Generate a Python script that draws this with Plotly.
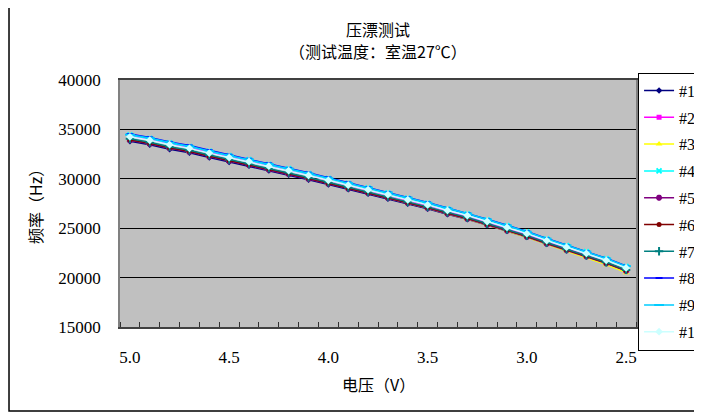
import plotly.graph_objects as go

# 电压（V），从5.0降到2.5
voltage = [5.0, 4.9, 4.8, 4.7, 4.6, 4.5, 4.4, 4.3, 4.2, 4.1, 4.0, 3.9, 3.8,
           3.7, 3.6, 3.5, 3.4, 3.3, 3.2, 3.1, 3.0, 2.9, 2.8, 2.7, 2.6, 2.5]

f1 = [33800, 33450, 33000, 32630, 32150, 31700, 31310, 30840, 30400, 29910, 29420, 28930, 28480,
      27990, 27470, 26960, 26410, 25900, 25310, 24720, 24100, 23410, 22750, 22130, 21440, 20680]
f2 = [34330, 33970, 33520, 33140, 32660, 32200, 31790, 31310, 30850, 30350, 29850, 29340, 28880,
      28370, 27840, 27310, 26740, 26210, 25600, 24990, 24340, 23630, 22940, 22290, 21570, 20730]
f3 = [33950, 33600, 33150, 32780, 32300, 31850, 31450, 30980, 30530, 30040, 29550, 29040, 28590,
      28080, 27560, 27030, 26470, 25940, 25330, 24720, 24080, 23370, 22680, 22030, 21310, 20500]
f4 = [34430, 34080, 33630, 33260, 32780, 32330, 31930, 31460, 31010, 30520, 30030, 29520, 29070,
      28570, 28040, 27520, 26960, 26440, 25840, 25240, 24610, 23910, 23240, 22610, 21910, 21130]
f5 = [33900, 33550, 33100, 32730, 32250, 31800, 31400, 30930, 30480, 29990, 29500, 29010, 28560,
      28060, 27550, 27030, 26470, 25950, 25350, 24760, 24130, 23430, 22770, 22140, 21440, 20680]
f6 = [33950, 33600, 33150, 32780, 32300, 31850, 31460, 30990, 30540, 30050, 29560, 29070, 28620,
      28120, 27610, 27090, 26530, 26010, 25410, 24820, 24190, 23490, 22820, 22190, 21490, 20730]
f7 = [34050, 33700, 33250, 32880, 32400, 31950, 31550, 31080, 30630, 30140, 29650, 29150, 28700,
      28200, 27680, 27160, 26600, 26080, 25480, 24880, 24250, 23550, 22880, 22250, 21550, 20780]
f8 = [34530, 34180, 33730, 33360, 32880, 32430, 32020, 31550, 31100, 30610, 30120, 29610, 29160,
      28650, 28130, 27600, 27040, 26510, 25910, 25300, 24670, 23960, 23290, 22660, 21950, 21180]
f9 = [34470, 34120, 33670, 33300, 32820, 32370, 31970, 31500, 31050, 30560, 30070, 29570, 29120,
      28620, 28100, 27570, 27010, 26490, 25890, 25280, 24640, 23940, 23270, 22640, 21940, 21160]
f10 = [34250, 33900, 33450, 33080, 32600, 32150, 31750, 31280, 30830, 30340, 29850, 29350, 28900,
       28400, 27880, 27360, 26800, 26280, 25680, 25080, 24450, 23750, 23080, 22450, 21750, 20980]

names = ['#1', '#2', '#3', '#4', '#5', '#6', '#7', '#8', '#9', '#10']
series = [f1, f2, f3, f4, f5, f6, f7, f8, f9, f10]

x_ticks = [5.0, 4.5, 4.0, 3.5, 3.0, 2.5]
x_labels = ['5.0', '4.5', '4.0', '3.5', '3.0', '2.5']
y_ticks = [15000, 20000, 25000, 30000, 35000, 40000]
y_labels = ['15000', '20000', '25000', '30000', '35000', '40000']

# Excel默认配色和标记
styles = [
    ('#000080', 'diamond', 5),
    ('#FF00FF', 'square', 5),
    ('#FFFF00', 'triangle-up', 6),
    ('#00FFFF', 'x-thin-open', 5),
    ('#800080', 'asterisk-open', 5),
    ('#800000', 'circle', 5),
    ('#008080', 'cross-thin-open', 6),
    ('#0000FF', 'line-ew-open', 5),
    ('#00CCFF', 'line-ew-open', 7),
    ('#CCFFFF', 'diamond', 6),
]

SERIF = "Times New Roman, serif"
CJK = "Noto Sans CJK SC"

fig = go.Figure()
for i, (name, ys) in enumerate(zip(names, series)):
    color, sym, size = styles[i]
    fig.add_trace(go.Scatter(
        x=voltage, y=ys, name=name, mode='lines+markers',
        legendgroup=name,
        line=dict(color=color, width=1.5),
        marker=dict(symbol=sym, size=size, color=color,
                    line=dict(color=color, width=2 if 'open' in sym else 0)),
    ))

# 页面body有8px边距，图整体缩小8px
fig.update_layout(
    width=694, height=407,
    margin=dict(l=112, r=66, t=72, b=88, autoexpand=False),
    paper_bgcolor='white', plot_bgcolor='#C0C0C0',
    font=dict(family=SERIF, size=16, color='black'),
    showlegend=True,
    legend=dict(x=1.004, y=1.03, xanchor='left', yanchor='top',
                bordercolor='black', borderwidth=1, bgcolor='white',
                font=dict(family=SERIF, size=16), tracegroupgap=3,
                itemwidth=30, maxheight=330),
    xaxis=dict(range=[5.05, 2.45], tickvals=x_ticks, ticktext=x_labels,
               ticks='', showgrid=False, zeroline=False,
               showline=True, linecolor='#404040', linewidth=1.5, mirror=True,
               ticklabelstandoff=14, tickfont=dict(size=17, family=SERIF),
               minor=dict(tick0=5.05, dtick=0.1, ticks='inside', ticklen=5,
                          tickcolor='#303030', tickwidth=1, showgrid=False)),
    yaxis=dict(range=[15000, 40000], tickvals=y_ticks, ticktext=y_labels, ticks='',
               showgrid=True, gridcolor='black', gridwidth=1, zeroline=False,
               showline=True, linecolor='#808080', linewidth=1.5, mirror=True,
               ticklabelstandoff=14, tickfont=dict(size=17, family=SERIF)),
)

# 标题和坐标轴标题
ann = dict(xref='paper', yref='paper', showarrow=False, xanchor='center', yanchor='middle')
fig.add_annotation(text='压漂测试', x=0.5, y=1.2065,
                   font=dict(size=16, family=CJK), **ann)
fig.add_annotation(text='（测试温度：室温27℃）', x=0.5, y=1.1174,
                   font=dict(size=16, family=CJK), **ann)
fig.add_annotation(text='电压（V）', x=0.5, y=-0.2308,
                   font=dict(size=16, family=CJK), **ann)
fig.add_annotation(text='频率（Hz）', x=-0.1647, y=0.502, textangle=-90,
                   font=dict(size=16, family=CJK), **ann)

# 外边框
fig.add_shape(type='rect', xref='paper', yref='paper', x0=-0.2151, x1=1.124,
              y0=-0.340, y1=1.3036, line=dict(color='black', width=1.5), layer='below')

fig.write_html("out.html")
